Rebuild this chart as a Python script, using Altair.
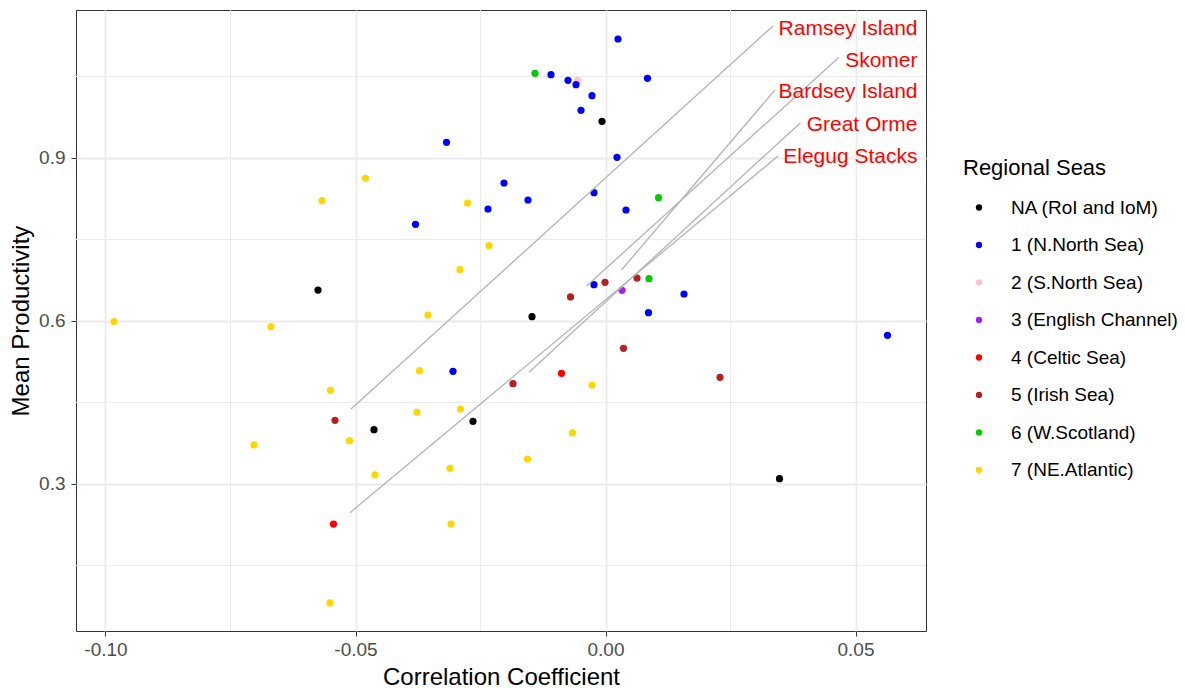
import altair as alt
import pandas as pd

# ---------------- data ----------------
region_names = ["NA (RoI and IoM)", "1 (N.North Sea)", "2 (S.North Sea)",
                "3 (English Channel)", "4 (Celtic Sea)", "5 (Irish Sea)",
                "6 (W.Scotland)", "7 (NE.Atlantic)"]
region_colours = ["#000000", "#0000FF", "#FFC0CB", "#A020F0",
                  "#FF0000", "#B22222", "#00CD00", "#FFD700"]

# 2 (S.North Sea)
corr_r2 = [-0.0056]
prod_r2 = [1.043]
# NA (RoI and IoM)
corr_na = [-0.0007, -0.0575, -0.0147, -0.0463, -0.0265, 0.0348]
prod_na = [0.9675, 0.657, 0.608, 0.400, 0.4154, 0.3097]
# 1 (N.North Sea)
corr_r1 = [0.0025, -0.0109, -0.0075, -0.0059, -0.0027, -0.0049, 0.0084, -0.0318,
           0.0023, -0.0203, -0.0155, -0.0235, -0.0023, 0.0041, -0.0380, -0.0023,
           0.0157, 0.0086, 0.0564, -0.0305]
prod_r1 = [1.119, 1.0534, 1.043, 1.035, 1.0147, 0.9878, 1.0467, 0.9289,
           0.9013, 0.854, 0.8227, 0.8061, 0.8362, 0.8043, 0.778, 0.6668,
           0.6497, 0.6153, 0.5737, 0.5074]
# 3 (English Channel)
corr_r3 = [0.0033]
prod_r3 = [0.6565]
# 4 (Celtic Sea)
corr_r4 = [-0.0088, -0.0544]
prod_r4 = [0.5037, 0.2263]
# 5 (Irish Sea)
corr_r5 = [-0.0001, -0.0070, 0.0063, 0.0036, 0.0229, -0.0185, -0.0541]
prod_r5 = [0.6712, 0.6442, 0.679, 0.5497, 0.4964, 0.4846, 0.4172]
# 6 (W.Scotland)
corr_r6 = [-0.0141, 0.0106, 0.0087]
prod_r6 = [1.0559, 0.827, 0.6779]
# 7 (NE.Atlantic)
corr_r7 = [-0.0480, -0.0567, -0.0983, -0.0669, -0.0276, -0.0233, -0.0291, -0.0355,
           -0.0372, -0.0550, -0.0377, -0.0290, -0.0512, -0.0703, -0.0066, -0.0027,
           -0.0156, -0.0461, -0.0311, -0.0309, -0.0551]
prod_r7 = [0.8627, 0.8214, 0.599, 0.5895, 0.8172, 0.7386, 0.6944, 0.611,
           0.5085, 0.4724, 0.432, 0.438, 0.3797, 0.3718, 0.3939, 0.4822,
           0.346, 0.3166, 0.3289, 0.2263, 0.081]

# labelled sites (repel segments: start -> label end, label anchor)
site_names = ["Ramsey Island", "Skomer", "Bardsey Island", "Great Orme", "Elegug Stacks"]
seg_x_start = [-0.0509, -0.0038, 0.0032, -0.0153, -0.0511]
seg_y_start = [0.438, 0.6644, 0.6939, 0.5056, 0.2472]
seg_x_end = [0.0335, 0.0467, 0.0339, 0.0390, 0.0345]
seg_y_end = [1.143, 1.0854, 1.0252, 0.965, 0.9037]
label_x = [0.0624, 0.0624, 0.0624, 0.0624, 0.0624]
label_y = [1.1264, 1.0681, 1.0099, 0.9503, 0.8914]

x_major = [-0.10, -0.05, 0.00, 0.05]
y_major = [0.3, 0.6, 0.9]
x_minor = [-0.075, -0.025, 0.025]
y_minor = [0.15, 0.45, 0.75, 1.05]
x_domain = [-0.1059, 0.0641]
y_domain = [0.0294, 1.1724]

# ---------------- tables ----------------
rows = []
for idx, cs, ps in [(2, corr_r2, prod_r2), (0, corr_na, prod_na), (1, corr_r1, prod_r1),
                    (3, corr_r3, prod_r3), (4, corr_r4, prod_r4), (5, corr_r5, prod_r5),
                    (6, corr_r6, prod_r6), (7, corr_r7, prod_r7)]:
    for c, p in zip(cs, ps):
        rows.append({"corr": c, "prod": p, "region": region_names[idx]})
pts = pd.DataFrame(rows)

sites = pd.DataFrame({"site": site_names, "x0": seg_x_start, "y0": seg_y_start,
                      "x1": seg_x_end, "y1": seg_y_end, "lx": label_x, "ly": label_y})

FONT = "Liberation Sans"
xs = alt.Scale(domain=x_domain, nice=False, zero=False)
ys = alt.Scale(domain=y_domain, nice=False, zero=False)

X_TITLE = "Correlation Coefficient"
Y_TITLE = "Mean Productivity"
x_axis = alt.Axis(values=x_major, grid=True,
                  labelExpr="datum.value < 0 ? '-' + format(-datum.value, '.2f') : format(datum.value, '.2f')",
                  titleX=425, titleY=53, titleBaseline="alphabetic", labelPadding=4)
y_axis = alt.Axis(values=y_major, grid=True, format=".1f",
                  titleX=-48, titleY=310.5, titleAngle=270,
                  titleBaseline="alphabetic", labelPadding=6)


def X(field):
    return alt.X(field, type="quantitative", scale=xs, title=X_TITLE, axis=x_axis)


def Y(field):
    return alt.Y(field, type="quantitative", scale=ys, title=Y_TITLE, axis=y_axis)


minor_x = alt.Chart(pd.DataFrame({"v": x_minor})).mark_rule(
    color="#EBEBEB", strokeWidth=1.0).encode(x=X("v"))
minor_y = alt.Chart(pd.DataFrame({"v": y_minor})).mark_rule(
    color="#EBEBEB", strokeWidth=1.0).encode(y=Y("v"))

points = alt.Chart(pts).mark_circle(size=52, opacity=1).encode(
    x=X("corr"),
    y=Y("prod"),
    color=alt.Color("region:N",
                    scale=alt.Scale(domain=region_names, range=region_colours),
                    legend=alt.Legend(title="Regional Seas", orient="none",
                                      legendX=887, legendY=148,
                                      titleFontSize=22, titleFont=FONT,
                                      titleFontWeight="normal", titleColor="#000000",
                                      titlePadding=18,
                                      labelFontSize=19, labelFont=FONT, labelColor="#000000",
                                      labelLimit=300,
                                      symbolType="circle", symbolSize=40,
                                      symbolStrokeWidth=0, symbolOffset=6.5,
                                      labelOffset=22.5, rowPadding=17.5, padding=0)),
)

segments = alt.Chart(sites).mark_rule(color="#B3B3B3", strokeWidth=1.3).encode(
    x=X("x0"), y=Y("y0"), x2="x1:Q", y2="y1:Q")

labels = alt.Chart(sites).mark_text(align="right", baseline="alphabetic",
                                    fontSize=21, font=FONT, color="#FF0000").encode(
    x=X("lx"), y=Y("ly"), text="site:N")

chart = alt.layer(minor_x, minor_y, points, segments, labels).properties(
    width=850, height=621,
    padding={"left": 76, "top": 10, "right": 259, "bottom": 57},
    autosize=alt.AutoSizeParams(type="none"),
    background="white",
).configure_view(stroke="#333333", strokeWidth=1).configure_axis(
    domain=False, gridColor="#EBEBEB", gridWidth=1.8,
    tickColor="#333333", tickSize=5, tickWidth=1,
    labelFont=FONT, labelFontSize=19, labelColor="#4D4D4D",
    titleFont=FONT, titleFontSize=24, titleFontWeight="normal", titleColor="#000000",
)

chart.save("out.html", embed_options={"renderer": "svg", "actions": False})
